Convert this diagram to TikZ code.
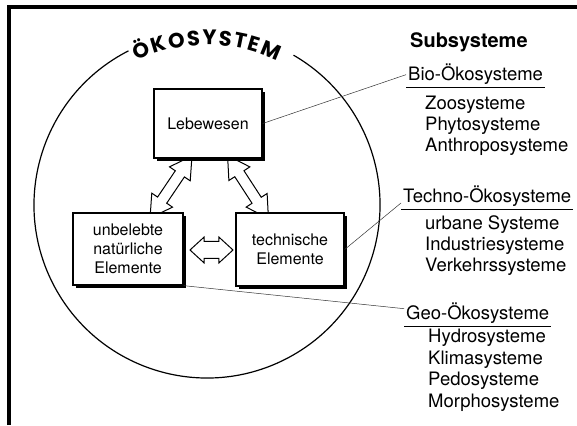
\documentclass[tikz,border=0pt]{standalone}
\usepackage{fontspec}
\setmainfont{TeX Gyre Heros}
\newfontfamily\titlefont{Poppins}
\usetikzlibrary{positioning, calc, shapes.arrows, shadows, decorations.text, backgrounds}

\tikzset{
  elem/.style={draw, line width=1.3pt, fill=white, align=center,
    minimum width=108pt, minimum height=72pt,
    font=\fontsize{16}{19}\selectfont,
    drop shadow={shadow xshift=3pt, shadow yshift=-3pt, fill=black, opacity=1}},
  hollow/.style={double arrow, draw, line width=1pt, fill=white,
    inner xsep=0pt, inner ysep=5pt, double arrow head extend=7pt, double arrow tip angle=60},
  link/.style={draw=black!80, line width=0.5pt},
  subhead/.style={anchor=base west, inner sep=2pt, font=\fontsize{18.5}{22}\selectfont},
  sublist/.style={anchor=base west, inner sep=0pt, font=\fontsize{18.5}{22}\selectfont}
}

\begin{document}
\begin{tikzpicture}[x=1pt, y=1pt]
    \useasboundingbox (0,0) rectangle (577,425);

    %Frame
    \draw[line width=4pt] (9,0) -- (9,418) -- (577,418);

    %Circle
    \coordinate (C) at (207,220);
    \coordinate (ts) at ([shift={(116:160)}]C);
    \draw[line width=1.2pt] ([shift={(117:173)}]C) arc[start angle=117, end angle=420, radius=173];
    \path[decorate, decoration={text along path, text align={fit to path},
        text={|\titlefont\bfseries\fontsize{21}{21}\selectfont|ÖKOSYSTEM}}]
        (ts) arc[start angle=116, end angle=64, radius=160];

    %Nodes
    \node[elem, minimum height=69pt] (leb) at (208,301.5) {Lebewesen};
    \node[elem, minimum width=110pt] (unb) at (128,176) {unbelebte\\natürliche\\Elemente};
    \node[elem, minimum height=73pt] (tech) at (290,175.5) {technische\\Elemente};

    %Arrows
    \begin{scope}[on background layer]
        \node[hollow, rotate=56, minimum height=75pt] (al) at (171,238) {};
        \node[hollow, rotate=-57, minimum height=75pt] (ar) at (248,238) {};
        \node[hollow, minimum height=43pt, inner ysep=8pt,
            double arrow head extend=4.5pt, double arrow tip angle=85] (ah) at (211.5,175) {};
    \end{scope}

    %Subsystems
    \node[anchor=base west, inner sep=0pt, font=\fontsize{20}{24}\selectfont\bfseries] (sub) at (410,377) {Subsysteme};

    \node[subhead] (bioh) at (406,344) {Bio-Ökosysteme};
    \foreach \name [count=\i] in {Zoosysteme, Phytosysteme, Anthroposysteme}
        \node[sublist] (bio\i) at (425,336-21*\i) {\name};

    \node[subhead] (techh) at (401,222) {Techno-Ökosysteme};
    \foreach \name [count=\i] in {urbane Systeme, Industriesysteme, Verkehrssysteme}
        \node[sublist] (techl\i) at (425,216-21*\i) {\name};

    \node[subhead] (geoh) at (404,105) {Geo-Ökosysteme};
    \foreach \name [count=\i] in {Hydrosysteme, Klimasysteme, Pedosysteme, Morphosysteme}
        \node[sublist] (geo\i) at (428,103.5-21.5*\i) {\name};

    %Lines
    \draw[line width=0.8pt] (bioh.south west) -- (bioh.south east);
    \draw[line width=0.8pt] (techh.south west) -- (techh.south east);
    \draw[line width=0.8pt] (geoh.south west) -- (geoh.south east);
    \draw[link] (leb.east) -- (bioh.west);
    \draw[link] (tech.east) -- (techh.base west);
    \draw[link] (unb.south east) -- ([yshift=5pt]geoh.west);
\end{tikzpicture}
\end{document}
